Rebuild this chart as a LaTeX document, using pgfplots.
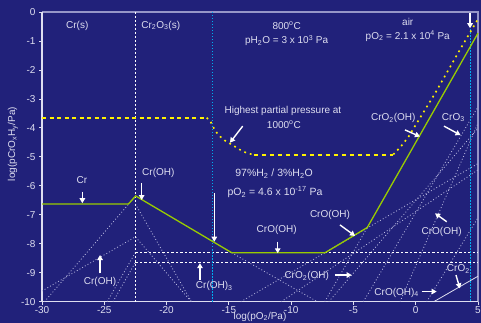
\documentclass[border=0pt]{standalone}
\usepackage{fontspec}
\setmainfont{Liberation Sans}
\usepackage{pgfplots}
\pgfplotsset{compat=1.18}
\usetikzlibrary{arrows.meta}
\definecolor{bg}{RGB}{33,33,122}
\definecolor{txt}{RGB}{222,222,240}
\definecolor{framec}{RGB}{150,150,200}
\definecolor{lgreen}{RGB}{153,204,0}
\definecolor{spec}{RGB}{185,185,225}
\begin{document}
\begin{tikzpicture}[x=1pt,y=1pt,
  lab/.style={font=\fontsize{10}{11}\selectfont, text=txt, inner sep=0pt},
  arr/.style={-{Triangle[width=5.5pt,length=5pt]}, line width=1.4pt, white},
  sp/.style={spec, line width=0.8pt, dash pattern=on 0.9pt off 2.2pt}]
\fill[bg] (0,0) rectangle (481,323);
\begin{axis}[at={(42pt,21.3pt)}, anchor=south west, scale only axis,
  width=436pt, height=289.7pt,
  xmin=-30, xmax=5, ymin=-10, ymax=0,
  xtick={-30,-25,...,5}, ytick={-10,-9,...,0},
  axis line style={draw=none},
  tick align=outside, major tick length=3pt, tick pos=left,
  tick style={txt, line width=0.8pt},
  ticklabel style={font=\fontsize{10}{11}\selectfont, text=txt},
  xticklabel style={yshift=2pt},
  /pgf/number format/assume math mode=true,
  clip=false]
% frame
\draw[framec, line width=1.2pt] (rel axis cs:0,1) -- (rel axis cs:1,1) -- (rel axis cs:1,0);
\draw[txt, line width=1.2pt] (rel axis cs:0,1) -- (rel axis cs:0,0) -- (rel axis cs:1,0);
% species lines (dotted)
\addplot[sp] coordinates {(-29.8,-10) (-22.48,-6.35)};
\addplot[sp] coordinates {(-30,-9.63) (-22.5,-7.76) (-18.02,-10)};
\addplot[sp] coordinates {(-22.5,-6.63) (-18.0,-10)};
\addplot[sp] coordinates {(-24.77,-10) (-22.5,-8.30)};
\addplot[sp] coordinates {(-24.3,-10) (-22.5,-8.64)};
\addplot[sp] coordinates {(-14.77,-8.31) (-7.9,-10)};
\addplot[sp] coordinates {(-14.04,-10) (5,-5.23)};
\addplot[sp] coordinates {(-6.98,-10) (5,-4.01)};
\addplot[sp] coordinates {(-7.3,-10) (-3.89,-7.44)};
\addplot[sp] coordinates {(-4.2,-10) (5,-3.27)};
\addplot[sp] coordinates {(-1.26,-10) (5,-3.84)};
\addplot[sp] coordinates {(0.88,-10) (5,-7.1)};
\addplot[sp] coordinates {(-10.8,-10) (5,-5.45)};
% CrO2 solid
\addplot[txt, line width=0.8pt] coordinates {(1.45,-10) (5,-9.12)};
% flat dashed lines
\addplot[white, line width=0.9pt, dash pattern=on 2.5pt off 2pt] coordinates {(-22.5,-8.30) (5,-8.30)};
\addplot[white, line width=0.9pt, dash pattern=on 2.5pt off 2pt] coordinates {(-22.5,-8.64) (5,-8.64)};
% vertical boundaries
\addplot[white, line width=0.9pt, dash pattern=on 2pt off 2pt] coordinates {(-22.5,0) (-22.5,-10)};
\addplot[cyan, line width=0.9pt, dash pattern=on 1.5pt off 1.5pt] coordinates {(-16.33,0) (-16.33,-10)};
\addplot[cyan, line width=0.9pt, dash pattern=on 1.5pt off 1.5pt] coordinates {(4.36,-0.6) (4.36,-10)};
% total pressure line
\addplot[lgreen, line width=1.3pt] coordinates {(-30,-6.63) (-23.07,-6.63) (-22.48,-6.35) (-14.77,-8.31) (-7.28,-8.31) (-3.89,-7.44) (5,-0.73)};
% highest partial pressure at 1000C
\addplot[yellow, line width=2pt, dash pattern=on 4pt off 3.5pt] coordinates {(-30,-3.65) (-16.78,-3.65)};
\addplot[yellow, line width=1.6pt, dash pattern=on 1.8pt off 4pt] coordinates {(-16.78,-3.65) (-16.51,-3.75) (-16.19,-4.02) (-15.84,-4.25) (-15.31,-4.44) (-14.72,-4.59) (-14.16,-4.74) (-13.52,-4.88) (-13.0,-4.92)};
\addplot[yellow, line width=2pt, dash pattern=on 4pt off 4pt] coordinates {(-13.0,-4.92) (-1.8,-4.92)};
\addplot[yellow, line width=1.6pt, dash pattern=on 1.8pt off 4pt] coordinates {(-1.8,-4.92) (-1.2,-4.65) (-0.57,-4.3) (1.55,-2.81) (3.42,-1.4) (4.95,-0.28)};
% arrows
\draw[arr] (axis cs:4.36,-0.02) -- (axis cs:4.36,-0.56);
\draw[arr] (axis cs:-26.76,-6.2) -- (axis cs:-26.76,-6.6);
\draw[arr] (axis cs:-22.0,-5.91) -- (axis cs:-22.0,-6.49);
\draw[arr] (axis cs:-25.34,-9.02) -- (axis cs:-25.34,-8.39);
\draw[arr] (axis cs:-17.32,-9.25) -- (axis cs:-17.32,-8.67);
\draw[arr] (axis cs:-16.17,-6.26) -- (axis cs:-16.17,-7.93);
\draw[arr] (axis cs:-11.08,-7.93) -- (axis cs:-11.08,-8.33);
\draw[arr] (axis cs:-6.08,-7.35) -- (axis cs:-4.87,-7.73);
\draw[arr] (axis cs:-6.48,-9.08) -- (axis cs:-5.14,-9.08);
\draw[arr] (axis cs:2.49,-7.24) -- (axis cs:1.55,-6.95);
\draw[arr] (axis cs:0.48,-9.65) -- (axis cs:1.68,-9.65);
\draw[arr] (axis cs:3.23,-9.08) -- (axis cs:3.55,-9.54);
\draw[arr] (axis cs:-0.86,-4.07) -- (axis cs:0.34,-4.3);
\draw[arr] (axis cs:2.27,-3.94) -- (axis cs:3.6,-4.25);
\draw[arr] (axis cs:-13.89,-3.94) -- (axis cs:-14.91,-4.51);
% labels
\node[lab] at (axis cs:-27.17,-0.48) {Cr(s)};
\node[lab] at (axis cs:-20.47,-0.48) {Cr\textsubscript{2}O\textsubscript{3}(s)};
\node[lab] at (axis cs:-10.36,-0.48) {800\textsuperscript{o}C};
\node[lab] at (axis cs:-10.36,-0.99) {pH\textsubscript{2}O = 3 x 10\textsuperscript{3} Pa};
\node[lab] at (axis cs:-0.64,-0.33) {air};
\node[lab] at (axis cs:-0.64,-0.83) {pO\textsubscript{2} = 2.1 x 10\textsuperscript{4} Pa};
\node[lab] at (axis cs:-10.66,-3.41) {Highest partial pressure at};
\node[lab] at (axis cs:-10.58,-3.90) {1000\textsuperscript{o}C};
\node[lab] at (axis cs:-1.8,-3.67) {CrO\textsubscript{2}(OH)};
\node[lab] at (axis cs:3.02,-3.64) {CrO\textsubscript{3}};
\node[lab, font=\fontsize{10.5}{12}\selectfont] at (axis cs:-11.37,-5.59) {97\%H\textsubscript{2} / 3\%H\textsubscript{2}O};
\node[lab, font=\fontsize{10.5}{12}\selectfont] at (axis cs:-11.3,-6.22) {pO\textsubscript{2} = 4.6 x 10\textsuperscript{-17} Pa};
\node[lab] at (axis cs:-26.8,-5.8) {Cr};
\node[lab] at (axis cs:-20.66,-5.57) {Cr(OH)};
\node[lab] at (axis cs:-25.34,-9.31) {Cr(OH)};
\node[lab] at (axis cs:-16.17,-9.46) {Cr(OH)\textsubscript{3}};
\node[lab] at (axis cs:-11.16,-7.52) {CrO(OH)};
\node[lab] at (axis cs:-6.88,-7.0) {CrO(OH)};
\node[lab] at (axis cs:-8.75,-9.11) {CrO\textsubscript{2}(OH)};
\node[lab] at (axis cs:2.08,-7.58) {CrO(OH)};
\node[lab] at (axis cs:-1.53,-9.69) {CrO(OH)\textsubscript{4}};
\node[lab] at (axis cs:3.42,-8.88) {CrO\textsubscript{2}};
\end{axis}
\node[lab, rotate=90] at (13,179) {log(pCrO\textsubscript{x}H\textsubscript{y}/Pa)};
\node[lab, anchor=north] at (260,11) {log(pO\textsubscript{2}/Pa)};
\pgfresetboundingbox
\path (0,0) rectangle (481,323);
\end{tikzpicture}
\end{document}
